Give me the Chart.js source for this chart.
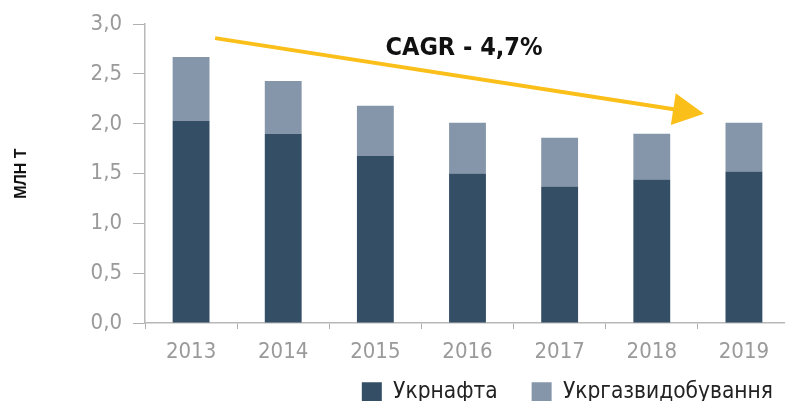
<!DOCTYPE html>
<html><head><meta charset="utf-8">
<script src="https://cdn.jsdelivr.net/npm/chart.js@4"></script>
<style>html,body{margin:0;padding:0;background:#fff;overflow:hidden;width:785px;height:401px}#wrap{width:790px;height:401px}</style>
</head><body><div id="wrap"><canvas id="c" width="790" height="401"></canvas></div>
<script>
const years = ['2013','2014','2015','2016','2017','2018','2019'];
const ukrnafta = [2.03, 1.90, 1.68, 1.50, 1.37, 1.44, 1.52];
const ukrgaz = [0.64, 0.53, 0.50, 0.51, 0.49, 0.46, 0.49];
const seriesNames = ['Укрнафта', 'Укргазвидобування'];
const yTitle = 'МЛН Т';
const cagrLabel = 'CAGR - 4,7%';

const NARROW = "'DejaVu Sans Condensed','Liberation Sans Narrow',sans-serif";

const arrowPlugin = {
  id: 'cagrArrow',
  afterLayout(chart) {
    const lg = chart.legend;
    if (lg) { lg.top = 346.5; lg.right = 807; }
  },
  afterDatasetsDraw(chart) {
    const {ctx, scales: {x, y}} = chart;
    const x0 = x.getPixelForValue(0) + 24, y0 = y.getPixelForValue(2.86);
    const x1 = x.getPixelForValue(6) - 40, y1 = y.getPixelForValue(2.1);
    const ang = Math.atan2(y1 - y0, x1 - x0);
    const headL = 31, headW = 16;
    const bx = x1 - headL * Math.cos(ang), by = y1 - headL * Math.sin(ang);
    ctx.save();
    ctx.strokeStyle = '#fbbf1a';
    ctx.fillStyle = '#fbbf1a';
    ctx.lineWidth = 4;
    ctx.beginPath();
    ctx.moveTo(x0, y0);
    ctx.lineTo(bx + 2 * Math.cos(ang), by + 2 * Math.sin(ang));
    ctx.stroke();
    ctx.beginPath();
    ctx.moveTo(x1, y1);
    ctx.lineTo(bx + headW * Math.sin(ang), by - headW * Math.cos(ang));
    ctx.lineTo(bx - headW * Math.sin(ang), by + headW * Math.cos(ang));
    ctx.closePath();
    ctx.fill();
    ctx.fillStyle = '#111';
    ctx.font = "bold 25px " + NARROW;
    ctx.textAlign = 'center';
    ctx.textBaseline = 'middle';
    ctx.fillText(cagrLabel, 464, y.getPixelForValue(2.76));
    ctx.restore();
  }
};

new Chart(document.getElementById('c'), {
  type: 'bar',
  data: {
    labels: years,
    datasets: [
      {label: seriesNames[0], data: ukrnafta, backgroundColor: '#344e66'},
      {label: seriesNames[1], data: ukrgaz, backgroundColor: '#8596aa'}
    ]
  },
  options: {
    responsive: false,
    animation: false,
    layout: {padding: {top: 24, bottom: 0, left: 0, right: 0}},
    datasets: {bar: {categoryPercentage: 1, barPercentage: 0.4}},
    plugins: {
      legend: {
        position: 'bottom',
        align: 'end',
        maxHeight: 30,
        labels: {
          boxWidth: 20, boxHeight: 19, padding: 34,
          color: '#222',
          font: {family: NARROW, size: 22.5}
        }
      },
      tooltip: {enabled: false}
    },
    scales: {
      x: {
        stacked: true,
        grid: {drawOnChartArea: false, offset: true, tickLength: 6, color: '#b0b0b0'},
        border: {color: '#b8b8b8', width: 1.5},
        ticks: {color: '#9a9a9a', font: {family: NARROW, size: 22}, padding: 10},
        afterFit(s) { s.height = 48; }
      },
      y: {
        stacked: true,
        min: 0, max: 3,
        grid: {drawOnChartArea: false, tickLength: 12, color: '#b0b0b0'},
        border: {color: '#b8b8b8', width: 1.5},
        ticks: {
          stepSize: 0.5, color: '#9a9a9a', padding: 11,
          font: {family: NARROW, size: 22},
          callback: v => v.toFixed(1).replace('.', ',')
        },
        title: {display: true, text: yTitle, color: '#111', font: {family: "'Liberation Sans',sans-serif", size: 16, weight: 'bold'}, padding: {top: 12, bottom: 0}},
        afterFit(s) { s.width = 145; }
      }
    }
  },
  plugins: [arrowPlugin]
});
</script>
</body></html>
